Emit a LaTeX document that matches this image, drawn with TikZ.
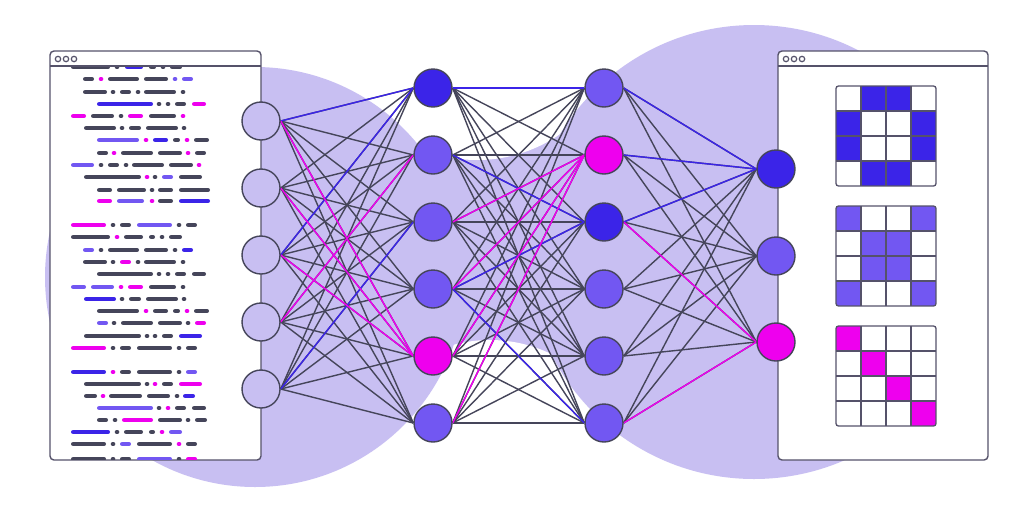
\documentclass[tikz,border=0pt]{standalone}
\usepackage{tikz}
\definecolor{nnlav}{HTML}{C8BFF2}
\definecolor{nnblue}{HTML}{3B24E8}
\definecolor{nnpurple}{HTML}{7257F2}
\definecolor{nnmagenta}{HTML}{EE00EE}
\definecolor{nnink}{HTML}{45455A}
\definecolor{nnframe}{HTML}{55526A}
\colorlet{tk}{nnink}
\colorlet{tb}{nnblue}
\colorlet{tp}{nnpurple}
\colorlet{tm}{nnmagenta}
\pgfdeclarelayer{back}
\pgfdeclarelayer{links}
\pgfsetlayers{back,links,main}
% one row of "source code": x-start/x-end/colour, a dot has start = end
\newcommand{\codeline}[2]{%
  \foreach \xa/\xb/\segcol in {#2}{%
    \pgfmathsetmacro{\cinset}{min(2.3,(\xb-\xa)/2)}%
    \draw[code,\segcol] ({\xa+\cinset},#1) -- ({\xb-\cinset+0.05},#1);
  }}
% 4x4 pixel glyph: x, y, colour, filled cells col/row
\newcommand{\pixgrid}[4]{%
  \begin{scope}
    \clip[rounded corners=2.5pt] (#1,#2) rectangle ++(100,100);
    \foreach \gc/\gr in {#4}
      \fill[#3] ({#1+25*\gc},{#2+25*\gr}) rectangle ++(25,25);
    \foreach \gk in {1,2,3}{
      \draw[gridrule] ({#1+25*\gk},#2) -- ++(0,100);
      \draw[gridrule] (#1,{#2+25*\gk}) -- ++(100,0);
    }
  \end{scope}
  \draw[gridrule,rounded corners=2.5pt] (#1,#2) rectangle ++(100,100);}

\begin{document}
\begin{tikzpicture}[
  x=1pt,y=-1pt,
  neuron/.style={circle,draw=nnink,line width=1.4pt,minimum size=38pt,inner sep=0pt},
  link/.style={nnink,line width=1.4pt},
  code/.style={line width=4.6pt,line cap=round},
  panel/.style={draw=nnframe,fill=white,line width=1.4pt,rounded corners=4pt},
  frame/.style={nnframe,line width=1.2pt},
  gridrule/.style={draw=nnframe,line width=1.3pt}
]
  \useasboundingbox (0,0) rectangle (1024,512);

  \begin{pgfonlayer}{back}
  % backdrop blobs
  \fill[white] (0,0) rectangle (1024,512);
  \fill[nnlav] (255,100) rectangle (752,420);
  \fill[white] (477,14) circle[radius=146];
  \fill[white] (490,480) circle[radius=140];
  \fill[nnlav] (255,277) circle[radius=210];
  \fill[nnlav] (754,252) circle[radius=227];

  % text window
  \draw[panel] (50,51) rectangle (261,460);
  \begin{scope}
    \clip (51,66.6) rectangle (260,459.4);
    \codeline{67}{71/110/tk, 117/117/tk, 125/143/tb, 149/156/tk, 163/163/tk, 170/182/tk}
    \codeline{79}{83/94/tk, 101/101/tm, 108/139/tk, 144/168/tk, 175/175/tp, 182/193/tp}
    \codeline{92}{83/107/tk, 113/113/tk, 120/131/tk, 138/138/tk, 144/176/tk, 183/183/tk}
    \codeline{104}{97/153/tb, 159/159/tk, 168/168/tk, 175/186/tk, 192/206/tm}
    \codeline{116}{71/86/tm, 91/114/tk, 121/121/tk, 128/143/tm, 149/176/tk, 183/183/tm}
    \codeline{128}{84/116/tk, 122/122/tk, 129/141/tk, 146/178/tk, 184/184/tk}
    \codeline{140}{97/139/tp, 146/146/tm, 153/168/tb, 173/180/tk, 187/187/tm, 194/209/tk}
    \codeline{153}{97/108/tk, 114/114/tm, 121/153/tk, 158/182/tk, 188/188/tm, 195/206/tk}
    \codeline{165}{71/94/tp, 101/101/tk, 108/119/tk, 126/126/tk, 132/164/tk, 169/193/tk, 199/199/tm}
    \codeline{177}{84/141/tk, 147/147/tm, 155/155/tk, 162/173/tp, 179/202/tk}
    \codeline{190}{97/112/tk, 117/146/tk, 152/152/tk, 158/173/tk, 179/210/tk}
    \codeline{201}{97/112/tm, 117/144/tp, 152/152/tm, 158/173/tk, 179/210/tb}
    %
    \codeline{225}{71/106/tm, 113/113/tk, 120/131/tk, 137/172/tp, 179/179/tk, 186/197/tk}
    \codeline{237}{71/110/tk, 117/117/tm, 124/143/tk, 149/155/tk, 162/162/tk, 169/182/tk}
    \codeline{250}{83/94/tp, 101/101/tk, 108/139/tk, 144/168/tk, 175/175/tk, 182/193/tb}
    \codeline{262}{83/107/tk, 113/113/tk, 120/131/tm, 138/138/tk, 144/176/tk, 183/183/tk}
    \codeline{274}{97/153/tk, 159/159/tk, 168/168/tk, 175/186/tk, 192/206/tk}
    \codeline{287}{71/86/tp, 91/114/tp, 121/121/tm, 128/143/tm, 149/176/tk, 183/183/tk}
    \codeline{299}{84/116/tb, 122/122/tk, 129/141/tk, 146/178/tk, 184/184/tk}
    \codeline{311}{97/139/tk, 146/146/tm, 153/168/tk, 173/180/tk, 187/187/tm, 194/209/tk}
    \codeline{323}{97/108/tp, 114/114/tk, 121/153/tk, 158/182/tk, 188/188/tk, 195/206/tm}
    \codeline{336}{84/141/tk, 147/147/tk, 155/155/tk, 162/173/tk, 179/202/tb}
    \codeline{348}{71/106/tm, 113/113/tk, 120/131/tk, 137/172/tk, 179/179/tk, 186/197/tk}
    %
    \codeline{372}{71/106/tb, 113/113/tm, 120/131/tk, 137/172/tk, 179/179/tk, 186/197/tp}
    \codeline{384}{84/141/tk, 147/147/tk, 155/155/tm, 162/173/tk, 179/202/tm}
    \codeline{396}{84/97/tk, 103/103/tm, 109/142/tk, 147/170/tk, 177/177/tk, 183/195/tb}
    \codeline{408}{97/153/tp, 159/159/tk, 168/168/tm, 175/186/tk, 192/206/tk}
    \codeline{420}{97/108/tk, 115/115/tk, 122/153/tm, 158/182/tk, 188/188/tk, 195/207/tk}
    \codeline{432}{71/110/tb, 117/117/tk, 124/143/tk, 149/155/tk, 162/162/tm, 169/182/tp}
    \codeline{444}{71/106/tk, 113/113/tk, 120/131/tp, 137/172/tk, 179/179/tm, 186/197/tk}
    \codeline{459}{71/106/tk, 113/113/tk, 120/131/tk, 137/172/tp, 179/179/tk, 186/197/tm}
  \end{scope}
  \draw[frame] (50,66) -- (261,66);
  \foreach \dx in {58,66,74} \draw[frame] (\dx,59) circle[radius=2.7];

  % image window
  \draw[panel] (778,51) rectangle (988,460);
  \draw[frame] (778,66) -- (988,66);
  \foreach \dx in {786,794,802} \draw[frame] (\dx,59) circle[radius=2.7];
  \pixgrid{836}{86}{nnblue}{1/0,2/0,0/1,3/1,0/2,3/2,1/3,2/3}
  \pixgrid{836}{206}{nnpurple}{0/0,3/0,1/1,2/1,1/2,2/2,0/3,3/3}
  \pixgrid{836}{326}{nnmagenta}{0/0,1/1,2/2,3/3}
  \end{pgfonlayer}

  % layers of the network
  \foreach \k/\y in {1/121,2/188,3/255,4/322,5/389}
    \node[neuron,fill=nnlav] (i\k) at (261,\y) {};
  \foreach \k/\y/\c in {1/88/nnblue,2/155/nnpurple,3/222/nnpurple,4/289/nnpurple,5/356/nnmagenta,6/423/nnpurple}
    \node[neuron,fill=\c] (a\k) at (433,\y) {};
  \foreach \k/\y/\c in {1/88/nnpurple,2/155/nnmagenta,3/222/nnblue,4/289/nnpurple,5/356/nnpurple,6/423/nnpurple}
    \node[neuron,fill=\c] (b\k) at (604,\y) {};
  \foreach \k/\y/\c in {1/169/nnblue,2/256/nnpurple,3/342/nnmagenta}
    \node[neuron,fill=\c] (o\k) at (776,\y) {};

  \begin{pgfonlayer}{links}
  \foreach \s in {1,...,5} \foreach \t in {1,...,6} \draw[link] (i\s.east) -- (a\t.west);
  \foreach \s in {1,...,6} \foreach \t in {1,...,6} \draw[link] (a\s.east) -- (b\t.west);
  \foreach \s in {1,...,6} \foreach \t in {1,2,3} \draw[link] (b\s.east) -- (o\t.west);
  % highlighted weights
  \foreach \s/\t in {1/1,3/1,5/3} \draw[link,nnblue] (i\s.east) -- (a\t.west);
  \foreach \s/\t in {1/5,2/5,3/5,4/2} \draw[link,nnmagenta] (i\s.east) -- (a\t.west);
  \foreach \s/\t in {1/1,2/3,4/3,4/6} \draw[link,nnblue] (a\s.east) -- (b\t.west);
  \foreach \s/\t in {3/2,4/2,5/2,6/2} \draw[link,nnmagenta] (a\s.east) -- (b\t.west);
  \foreach \s/\t in {1/1,2/1,3/1} \draw[link,nnblue] (b\s.east) -- (o\t.west);
  \foreach \s/\t in {3/3,6/3} \draw[link,nnmagenta] (b\s.east) -- (o\t.west);
  \end{pgfonlayer}
\end{tikzpicture}
\end{document}
